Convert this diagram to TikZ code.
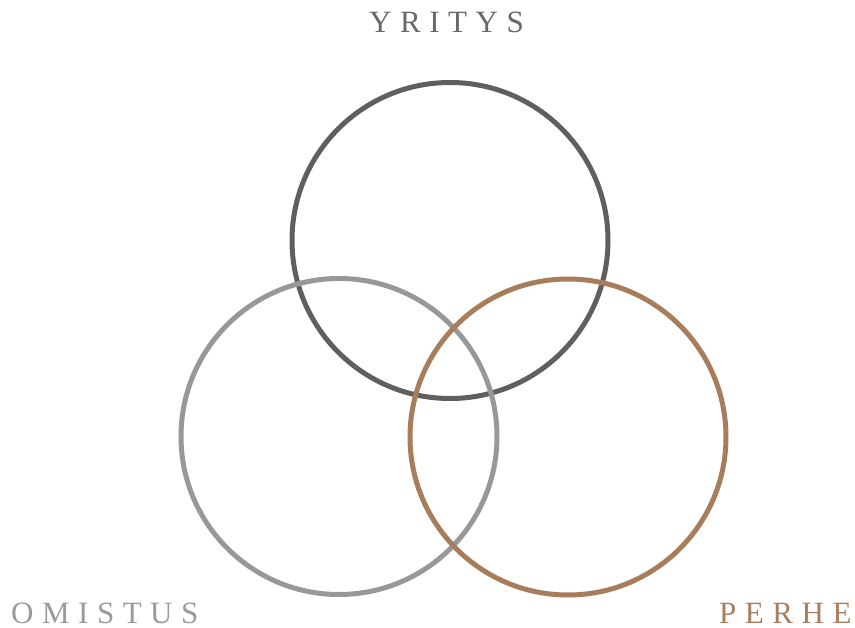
\documentclass[tikz,border=0pt]{standalone}
\usepackage{fontspec}
\setmainfont{Liberation Serif}
\definecolor{topgray}{HTML}{5F5F5F}
\definecolor{leftgray}{HTML}{989898}
\definecolor{brownc}{HTML}{A77D5C}
\definecolor{labtop}{HTML}{686868}
\definecolor{lableft}{HTML}{9A9A9A}
\definecolor{labright}{HTML}{A87E5E}
\newfontfamily\spaced[LetterSpace=27.5]{Liberation Serif}
\begin{document}
\begin{tikzpicture}[x=1pt,y=-1pt,
  ring/.style={circle, draw, line width=5pt, minimum size=316pt, inner sep=0pt},
  lab/.style={inner sep=0pt, font=\spaced\fontsize{31}{31}\selectfont}]
\useasboundingbox (0,0) rectangle (855,628);
\node[ring, draw=topgray] (yritys) at (450,240.5) {};
\node[ring, draw=leftgray] (omistus) at (339,436.5) {};
\node[ring, draw=brownc] (perhe) at (568,437) {};
\node[lab, text=labtop, anchor=base west] (tyritys) at (369,33) {YRITYS};
\node[lab, text=lableft, anchor=base west] (tomistus) at (11,623) {OMISTUS};
\node[lab, text=labright, anchor=base west] (tperhe) at (719,623) {PERHE};
\end{tikzpicture}
\end{document}
